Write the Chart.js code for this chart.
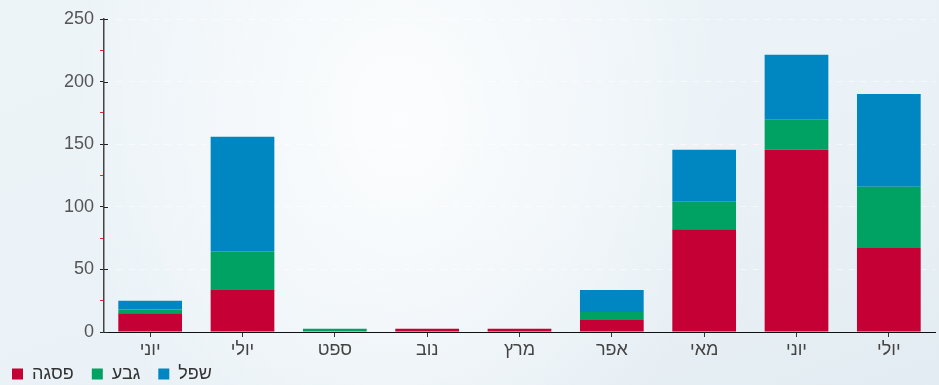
<!DOCTYPE html>
<html>
<head>
<meta charset="utf-8">
<script src="https://cdn.jsdelivr.net/npm/chart.js@4.4.1/dist/chart.umd.min.js"></script>
<style>
  html, body { margin: 0; padding: 0; }
  body {
    width: 939px; height: 385px; overflow: hidden;
    background:
      radial-gradient(ellipse 330px 420px at 400px 120px, rgba(255,255,255,0.85), rgba(255,255,255,0) 100%),
      linear-gradient(160deg, #edf4f8 0%, #eaf2f7 55%, #e3ecf2 100%);
  }
  canvas { display: block; }
</style>
</head>
<body>
<canvas id="chart" width="939" height="385"></canvas>
<script>
const months = ["יוני", "יולי", "ספט", "נוב", "מרץ", "אפר", "מאי", "יוני", "יולי"];
const peak = [15, 33.5, 0, 2.5, 2.5, 9.5, 82, 145.5, 67];
const ridge = [3, 31, 2.5, 0, 0, 6.5, 22, 24, 49];
const low = [7, 91.5, 0, 0, 0, 17.5, 41.5, 52, 74];
const seriesNames = ["פסגה", "גבע", "שפל"];
const yTicks = [0, 50, 100, 150, 200, 250];

const COLORS = ["#c40034", "#00a264", "#0086c0"];

// black major ticks poke into the plot a few px past the axis
const innerTicks = {
  id: "innerTicks",
  afterDraw(chart) {
    const ctx = chart.ctx;
    const y = chart.scales.y;
    ctx.save();
    ctx.strokeStyle = "#222";
    ctx.lineWidth = 1;
    yTicks.forEach((v) => {
      const py = Math.round(y.getPixelForValue(v)) + 0.5;
      ctx.beginPath();
      ctx.moveTo(y.right, py);
      ctx.lineTo(y.right + 4, py);
      ctx.stroke();
    });
    ctx.restore();
  },
};

new Chart(document.getElementById("chart"), {
  type: "bar",
  data: {
    labels: months,
    datasets: [
      { label: seriesNames[0], data: peak, backgroundColor: COLORS[0] },
      { label: seriesNames[1], data: ridge, backgroundColor: COLORS[1] },
      { label: seriesNames[2], data: low, backgroundColor: COLORS[2] },
    ],
  },
  plugins: [innerTicks],
  options: {
    responsive: false,
    animation: false,
    devicePixelRatio: 1,
    layout: { padding: { top: 19, right: 4, left: 9, bottom: 0 } },
    datasets: {
      bar: { categoryPercentage: 1, barPercentage: 0.69, borderWidth: 0 },
    },
    plugins: {
      tooltip: { enabled: false },
      legend: {
        position: "bottom",
        align: "start",
        maxHeight: 23,
        labels: {
          color: "#333",
          font: { family: "Liberation Sans", size: 18 },
          boxWidth: 11,
          boxHeight: 11,
          padding: 3,
          // extra trailing spaces widen the gap between legend items
          generateLabels(chart) {
            const items = Chart.defaults.plugins.legend.labels.generateLabels(chart);
            items.forEach((it, i) => {
              if (i < items.length - 1) it.text = it.text + "   ";
            });
            return items;
          },
        },
      },
    },
    scales: {
      x: {
        stacked: true,
        grid: {
          offset: false,
          drawOnChartArea: false,
          tickLength: 5,
          tickColor: "#333",
        },
        border: { color: "#111", width: 1 },
        ticks: {
          color: "#444",
          padding: 2,
          maxRotation: 0,
          autoSkip: false,
          font: { family: "Liberation Sans", size: 18 },
        },
        afterFit(scale) { scale.height = 30; },
      },
      y: {
        stacked: true,
        min: 0,
        max: 250,
        grid: {
          color: (c) => (c.tick && c.tick.value % 50 === 0 && c.tick.value > 0 ? "rgba(255,255,255,0.55)" : "rgba(0,0,0,0)"),
          tickColor: (c) => (c.tick && c.tick.value % 50 === 0 ? "#222" : "#ff2020"),
          tickLength: 4,
        },
        border: { color: "#444", width: 1.5, dash: [6, 6] },
        ticks: {
          stepSize: 25,
          color: "#555",
          padding: 6,
          autoSkip: false,
          font: { family: "Liberation Sans", size: 18 },
          callback: (v) => (yTicks.includes(v) ? v : ""),
        },
        afterFit(scale) { scale.width = 95; },
      },
    },
  },
});
</script>
</body>
</html>
